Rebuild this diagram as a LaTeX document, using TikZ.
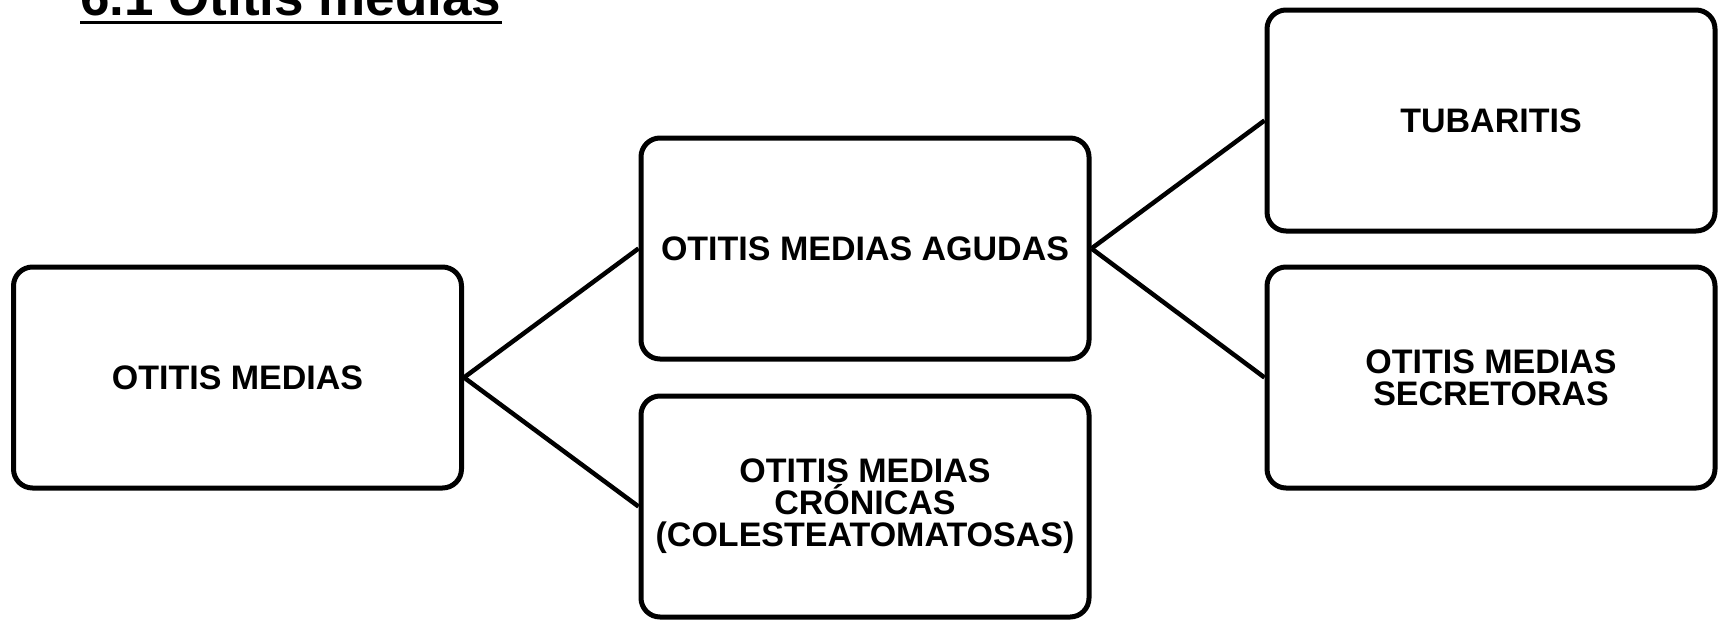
\documentclass[tikz,border=0pt]{standalone}
\usepackage{fontspec}
\setmainfont{Liberation Sans}
\begin{document}
\begin{tikzpicture}[x=1pt,y=-1pt,
  box/.style={draw=black,line width=5pt,rounded corners=19pt,minimum width=448pt,minimum height=221pt,inner sep=0pt,align=center,font=\fontsize{34}{32}\selectfont\bfseries},
  link/.style={draw=black,line width=4.5pt}]
\useasboundingbox (0,0) rectangle (1723,619);
\fill[white] (0,0) rectangle (1723,619);
\node[anchor=base west,inner sep=0pt,font=\fontsize{53}{60}\selectfont\bfseries] (title) at (80,15) {6.1 Otitis medias};
\draw[line width=3.4pt] ([yshift=-7.6pt]title.base west) -- ([yshift=-7.6pt]title.base east);
\node[box] (om) at (237.5,377.5) {OTITIS MEDIAS};
\node[box] (oma) at (865,248.5) {OTITIS MEDIAS AGUDAS};
\node[box] (omc) at (865,506.5) {OTITIS MEDIAS\\CRÓNICAS\\(COLESTEATOMATOSAS)};
\node[box] (tub) at (1491,120.5) {TUBARITIS};
\node[box] (oms) at (1491,377.5) {OTITIS MEDIAS\\SECRETORAS};
\draw[link] (om.east) -- (oma.west);
\draw[link] (om.east) -- (omc.west);
\draw[link] (oma.east) -- (tub.west);
\draw[link] (oma.east) -- (oms.west);
\end{tikzpicture}
\end{document}
